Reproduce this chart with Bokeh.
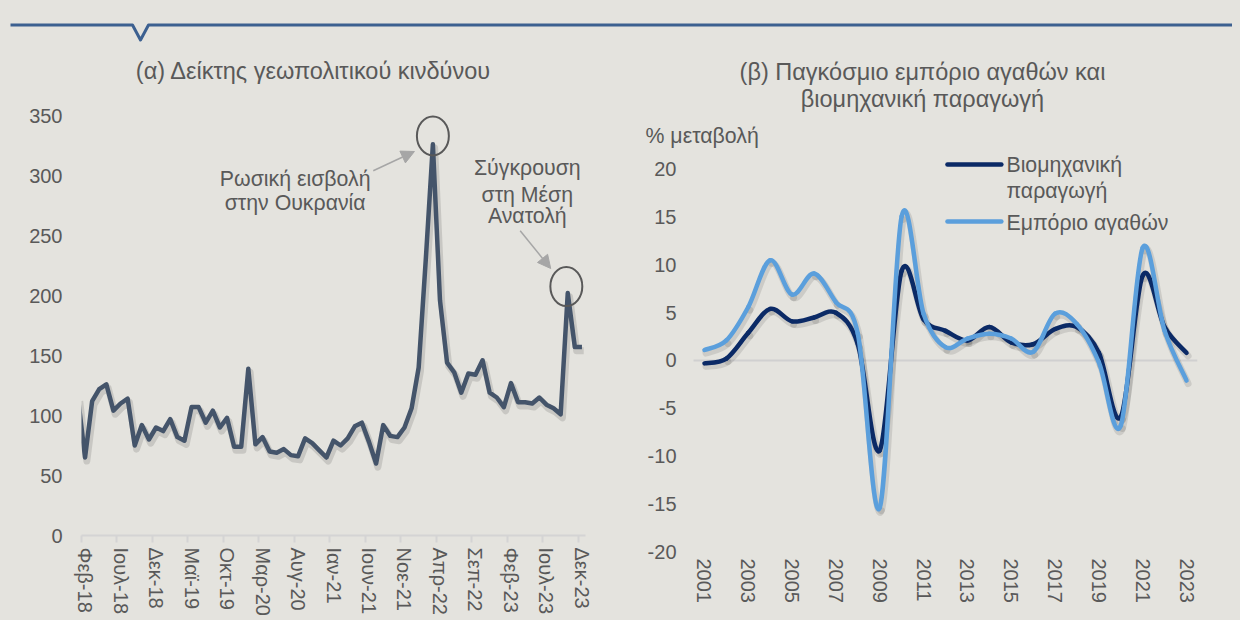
import numpy as np
from bokeh.plotting import figure
from bokeh.layouts import column, row
from bokeh.models import Range1d, FixedTicker, Arrow, NormalHead, Label
from bokeh.embed import file_html
from bokeh.resources import INLINE

BG = "#e4e3de"
FONT = "Liberation Sans"
TXT = "#595959"

# ---------------- data: panel (a) geopolitical risk index (monthly, Jan-18 .. Dec-23)
months_gr = ["Ιαν", "Φεβ", "Μαρ", "Απρ", "Μαϊ", "Ιουν", "Ιουλ", "Αυγ", "Σεπ", "Οκτ", "Νοε", "Δεκ"]
years_a = ["18", "19", "20", "21", "22", "23"]
month_labels = [f"{m}-{y}" for y in years_a for m in months_gr]
gpr = [115, 65, 112, 122, 126, 104, 110, 114, 75, 92, 80, 90,
       87, 97, 82, 79, 107, 107, 94, 104, 90, 98, 74, 74,
       139, 76, 82, 70, 69, 72, 67, 66, 81, 77, 71, 65,
       79, 75, 81, 91, 94, 78, 60, 92, 83, 82, 90, 106,
       140, 230, 326, 196, 144, 136, 119, 135, 134, 146, 119, 115,
       107, 127, 111, 111, 110, 115, 109, 106, 101, 202, 157, 157]
label_ticks_a = list(range(1, 72, 5))
yticks_a = [0, 50, 100, 150, 200, 250, 300, 350]

# ---------------- data: panel (b) world goods trade & industrial production (% change)
years_b = list(range(2001, 2024))
ind_prod = [-0.3, 0.2, 2.9, 5.4, 4.1, 4.5, 5.0, 1.7, -9.4, 9.4, 4.3, 3.1,
            2.1, 3.5, 1.9, 1.7, 3.3, 3.5, 0.8, -5.9, 8.9, 3.5, 0.8]
trade = [1.1, 2.1, 5.6, 10.5, 6.9, 9.1, 6.1, 2.8, -15.4, 15.1, 4.9, 1.4,
         2.3, 2.8, 2.3, 0.9, 4.9, 3.8, -0.2, -6.8, 11.8, 3.1, -2.1]
xticks_b = list(range(2001, 2024, 2))
yticks_b = [-20, -15, -10, -5, 0, 5, 10, 15, 20]


def smooth(xs, ys):
    xs = np.asarray(xs, float)
    ys = np.asarray(ys, float)
    n = len(xs)
    px = np.concatenate([[xs[0]], xs, [xs[-1]]])
    py = np.concatenate([[ys[0]], ys, [ys[-1]]])
    x0, y0, x1, y1 = xs[:-1], ys[:-1], xs[1:], ys[1:]
    pvx, pvy = px[0:n - 1], py[0:n - 1]
    nxx, nxy = px[3:n + 2], py[3:n + 2]
    return dict(x0=x0, y0=y0, x1=x1, y1=y1,
                cx0=x0 + (x1 - pvx) / 6, cy0=y0 + (y1 - pvy) / 6,
                cx1=x1 - (nxx - x0) / 6, cy1=y1 - (nxy - y0) / 6)


def style_fig(p):
    p.grid.visible = False
    p.background_fill_color = BG
    p.border_fill_color = BG
    p.outline_line_color = None
    try:
        p.frame_align = False
    except Exception:
        pass
    for ax in (p.xaxis[0], p.yaxis[0]):
        ax.major_label_text_font = FONT
        ax.major_label_text_font_size = "20px"
        ax.major_label_text_color = TXT


def txt(p, x, y, s, align="center", size="21.3px"):
    p.add_layout(Label(x=x, y=y, text=s, text_align=align, text_baseline="middle",
                       text_font=FONT, text_font_size=size, text_color=TXT))


# ---------------- header
hdr = figure(width=1224, height=40, x_range=Range1d(0, 1224), y_range=Range1d(0, 40),
             x_axis_type=None, y_axis_type=None, output_backend="svg", toolbar_location=None,
             min_border=0, background_fill_color=BG, border_fill_color=BG, outline_line_color=None)
hdr.grid.visible = False
hdr.line([2, 124, 132, 140, 1224], [23.5, 23.5, 8.5, 23.5, 23.5], line_color="#3c6090",
         line_width=3, line_join="round")

# ---------------- panel (a)
pa = figure(width=612, height=640, x_range=Range1d(0.5, 71.5), y_range=Range1d(0, 402.5),
            output_backend="svg", toolbar_location=None,
            min_border_left=73, min_border_right=35, min_border_top=4, min_border_bottom=153)
style_fig(pa)
xa = list(range(len(gpr)))
pa.line([v + 0.25 for v in xa], [v - 3 for v in gpr], line_color="black", line_alpha=0.12,
        line_width=7, line_join="round")
pa.line(xa, gpr, line_color="#44546a", line_width=4.5, line_join="round")

pa.xaxis.ticker = FixedTicker(ticks=label_ticks_a, minor_ticks=[t - 0.5 for t in label_ticks_a])
pa.xaxis.major_label_overrides = {t: month_labels[t] for t in label_ticks_a}
pa.xaxis.major_label_orientation = "vertical"
pa.xaxis.major_tick_line_color = None
pa.xaxis.major_tick_out = 0
pa.xaxis.major_tick_in = 0
pa.xaxis.minor_tick_line_color = "#d4d4d4"
pa.xaxis.minor_tick_line_width = 2
pa.xaxis.minor_tick_out = 7
pa.xaxis.minor_tick_in = 0
pa.xaxis.axis_line_color = "#d4d4d4"
pa.xaxis.axis_line_width = 2
pa.xaxis.major_label_standoff = 5

pa.yaxis.ticker = FixedTicker(ticks=yticks_a)
pa.yaxis.major_label_overrides = {t: str(t) for t in yticks_a}
pa.yaxis.axis_line_color = None
pa.yaxis.major_tick_line_color = None
pa.yaxis.minor_tick_line_color = None
pa.yaxis.major_tick_out = 0
pa.yaxis.major_tick_in = 0
pa.yaxis.major_label_standoff = 19

txt(pa, 33.2, 387.5, "(α) Δείκτης γεωπολιτικού κινδύνου", size="23.5px")
txt(pa, 30.6, 297.5, "Ρωσική εισβολή")
txt(pa, 30.6, 276.7, "στην Ουκρανία")
txt(pa, 63.3, 306.5, "Σύγκρουση")
txt(pa, 63.3, 284.0, "στη Μέση")
txt(pa, 63.3, 266.5, "Ανατολή")

i1 = int(np.argmax(gpr))
i2 = 60 + int(np.argmax(gpr[60:]))
pa.ellipse(x=[i1, i2 - 0.2], y=[gpr[i1] + 7, gpr[i2] + 5.5], width=4.5, height=32.5,
           fill_color=None, line_color="#595959", line_width=2)
head = dict(size=13, fill_color="#a6a6a6", line_color="#a6a6a6")
pa.add_layout(Arrow(end=NormalHead(**head), x_start=41.6, y_start=304, x_end=47.4, y_end=320,
                    line_color="#a6a6a6", line_width=1.5))
pa.add_layout(Arrow(end=NormalHead(**head), x_start=62.3, y_start=254, x_end=66.6, y_end=222.5,
                    line_color="#a6a6a6", line_width=1.5))

# ---------------- panel (b)
pb = figure(width=612, height=640, x_range=Range1d(1998.081, 2023.5), y_range=Range1d(-20, 32.25),
            output_backend="svg", toolbar_location=None,
            min_border_left=20, min_border_right=35, min_border_top=4, min_border_bottom=137)
style_fig(pb)
# category axis line at zero
pb.line([years_b[0] - 0.5, years_b[-1] + 0.5], [0, 0], line_color="#d0d0d0", line_width=2)

for ser in (ind_prod, trade):
    sh = smooth([v + 0.07 for v in years_b], [v - 0.32 for v in ser])
    pb.bezier(line_color="black", line_alpha=0.10, line_width=7, line_cap="round", **sh)
for ser, col in ((ind_prod, "#0b2a66"), (trade, "#5b9fdc")):
    pb.bezier(line_color=col, line_width=4.5, line_cap="round", **smooth(years_b, ser))

pb.xaxis.ticker = FixedTicker(ticks=xticks_b)
pb.xaxis.major_label_overrides = {t: str(t) for t in xticks_b}
pb.xaxis.major_label_orientation = "vertical"
pb.xaxis.axis_line_color = None
pb.xaxis.major_tick_line_color = None
pb.xaxis.minor_tick_line_color = None
pb.xaxis.major_tick_out = 0
pb.xaxis.major_tick_in = 0
pb.xaxis.minor_tick_out = 0
pb.xaxis.major_label_standoff = 7

pb.yaxis.ticker = FixedTicker(ticks=yticks_b)
pb.yaxis.major_label_overrides = {t: str(t) for t in yticks_b}
pb.yaxis.axis_line_color = None
pb.yaxis.major_tick_line_color = None
pb.yaxis.minor_tick_line_color = None
pb.yaxis.major_tick_out = 0
pb.yaxis.major_tick_in = 0
pb.yaxis.minor_tick_out = 0
pb.yaxis.major_label_standoff = -36

txt(pb, 2010.95, 30.16, "(β) Παγκόσμιο εμπόριο αγαθών και", size="23.5px")
txt(pb, 2010.95, 27.43, "βιομηχανική παραγωγή", size="23.5px")
txt(pb, 1998.31, 23.5, "% μεταβολή", align="left")

pb.line([2012.09, 2014.55], [20.52, 20.52], line_color="#0b2a66", line_width=4.5, line_cap="round")
pb.line([2012.09, 2014.55], [14.55, 14.55], line_color="#5b9fdc", line_width=4.5, line_cap="round")
txt(pb, 2014.78, 20.42, "Βιομηχανική", align="left")
txt(pb, 2014.78, 17.8, "παραγωγή", align="left")
txt(pb, 2014.78, 14.35, "Εμπόριο αγαθών", align="left")

layout = column(hdr, row(pa, pb, spacing=0), spacing=0)
html = file_html(layout, INLINE, title="chart")
css = ("<style>html,body{background:%s !important;overflow:hidden !important;}"
       "body{margin:8px !important;padding:0 !important;}</style>" % BG)
html = html.replace("</head>", css + "</head>", 1)
open("out.html", "w").write(html)
